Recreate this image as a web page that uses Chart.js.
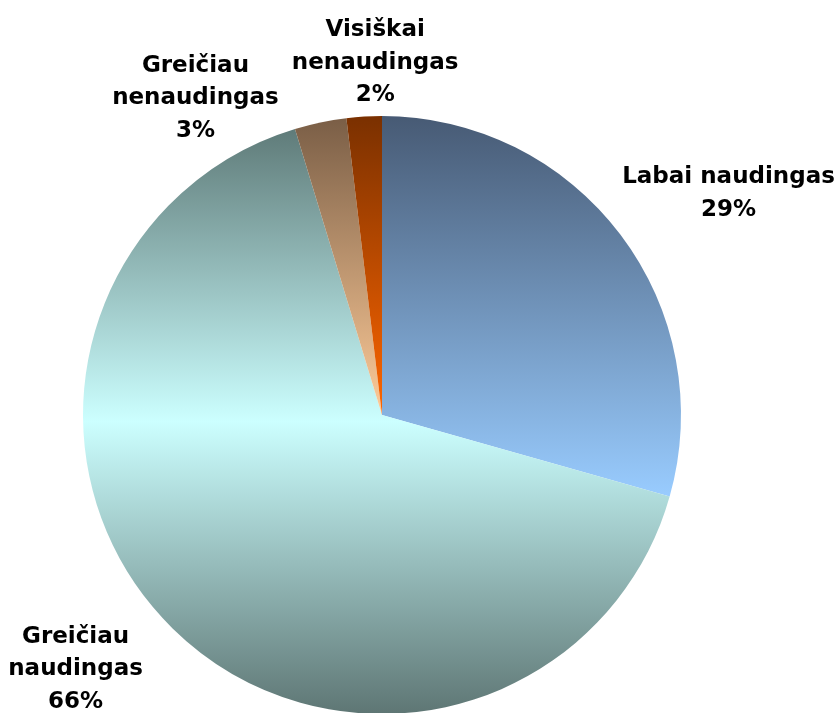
<!DOCTYPE html>
<html>
<head>
<meta charset="utf-8">
<script src="https://cdn.jsdelivr.net/npm/chart.js@4.4.0/dist/chart.umd.min.js"></script>
<style>
    html, body { margin: 0; padding: 0; background: #fff; overflow: hidden; }
    .wrap { width: 837px; height: 720px; position: relative; }
</style>
</head>
<body>
<div class="wrap"><canvas id="pie"></canvas></div>
<script>
// duomenys (procentai nuskaityti nuo paveikslo)
const categories = ['Labai naudingas', 'Greičiau naudingas', 'Greičiau nenaudingas', 'Visiškai nenaudingas']
const values = [29.4, 65.9, 2.8, 1.9]
const percentLabels = ['29%', '66%', '3%', '2%']

// spalvų gradientai (viršus -> apačia)
const gradientStops = [
    ['#475a74', '#99ccff'],
    ['#5f7b79', '#ccffff', '#5e7674'],
    ['#7a5e46', '#ffcc99'],
    ['#7a3000', '#ff6600']
]

// etikečių eilutės ir poslinkiai nuo lanko vidurio taško
const labelLines = [
    ['Labai naudingas'],
    ['Greičiau', 'naudingas'],
    ['Greičiau', 'nenaudingas'],
    ['Visiškai', 'nenaudingas']
]
const labelShift = [[108, -41], [-97, 41], [-125, -24], [11, -54]]

function sliceGradient(context) {
    const chart = context.chart
    const area = chart.chartArea
    if (!area) return gradientStops[context.dataIndex][0]
    const i = context.dataIndex
    const total = values.reduce((a, b) => a + b, 0)
    const cx = (area.left + area.right) / 2
    const cy = (area.top + area.bottom) / 2
    const r = Math.min(area.right - area.left, area.bottom - area.top) / 2
    let start = 0
    for (let k = 0; k < i; k++) start += values[k] / total * Math.PI * 2
    const end = start + values[i] / total * Math.PI * 2
    // kampai matuojami nuo viršaus pagal laikrodžio rodyklę
    const ys = [cy, cy - r * Math.cos(start), cy - r * Math.cos(end)]
    if (start <= 0) ys.push(cy - r)
    if (start <= Math.PI && end >= Math.PI) ys.push(cy + r)
    const y0 = Math.min(...ys)
    const y1 = Math.max(...ys)
    const g = chart.ctx.createLinearGradient(0, y0, 0, y1)
    const stops = gradientStops[i]
    stops.forEach((c, n) => g.addColorStop(n / (stops.length - 1), c))
    return g
}

const outsideLabels = {
    id: 'outsideLabels',
    afterDraw(chart) {
        const ctx = chart.ctx
        const meta = chart.getDatasetMeta(0)
        ctx.save()
        ctx.font = 'bold 23px "DejaVu Sans", Verdana, sans-serif'
        ctx.fillStyle = '#000'
        ctx.textAlign = 'center'
        ctx.textBaseline = 'middle'
        const lineH = 32.5
        meta.data.forEach((arc, i) => {
            const mid = (arc.startAngle + arc.endAngle) / 2
            const px = arc.x + Math.cos(mid) * arc.outerRadius + labelShift[i][0]
            const py = arc.y + Math.sin(mid) * arc.outerRadius + labelShift[i][1]
            const lines = labelLines[i].concat([percentLabels[i]])
            const top = py - (lines.length - 1) * lineH / 2
            lines.forEach((t, n) => ctx.fillText(t, px, top + n * lineH))
        })
        ctx.restore()
    }
}

new Chart(document.getElementById('pie'), {
    type: 'pie',
    data: {
        labels: categories,
        datasets: [{
            data: values,
            backgroundColor: sliceGradient,
            borderWidth: 0
        }]
    },
    options: {
        responsive: true,
        maintainAspectRatio: false,
        animation: false,
        layout: { padding: { top: 116, bottom: 6, left: 83, right: 156 } },
        plugins: {
            legend: { display: false },
            tooltip: { enabled: false }
        }
    },
    plugins: [outsideLabels]
})
</script>
</body>
</html>
